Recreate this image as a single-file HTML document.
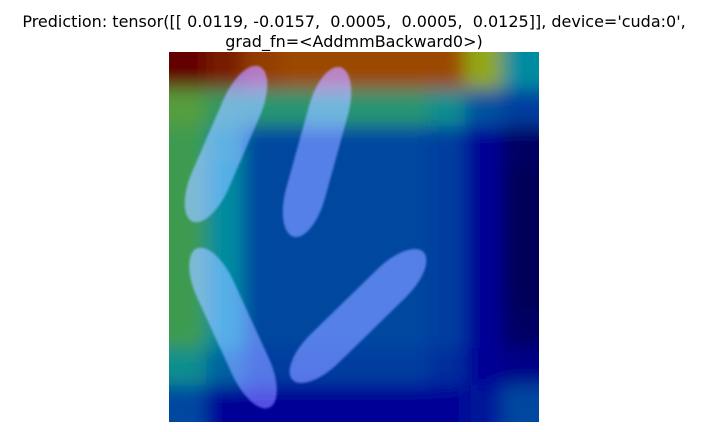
<!DOCTYPE html>
<html><head><meta charset="utf-8"><style>
html,body{margin:0;padding:0;background:#fff;width:707px;height:432px;overflow:hidden;position:relative}
svg{display:block;position:absolute;left:0;top:0;overflow:hidden}
text{font-family:"DejaVu Sans","Liberation Sans",sans-serif;font-size:16px;fill:#000}
</style></head><body>
<svg id="s" width="707" height="432" viewBox="0 0 707 432">
<text x="354" y="27" text-anchor="middle" xml:space="preserve">Prediction: tensor([[ 0.0119, -0.0157,  0.0005,  0.0005,  0.0125]], device='cuda:0',</text>
<text x="354" y="47" text-anchor="middle">grad_fn=&lt;AddmmBackward0&gt;)</text>
<defs>
<clipPath id="clip"><rect x="169" y="52" width="370" height="370"/></clipPath>
<filter id="blur" x="-20%" y="-20%" width="140%" height="140%"><feGaussianBlur stdDeviation="9"/></filter>
<filter id="soft"><feGaussianBlur stdDeviation="1"/></filter>
</defs>
<g clip-path="url(#clip)">
<g id="heat" filter="url(#blur)"></g>
<g id="grains" filter="url(#soft)" style="mix-blend-mode:screen"></g>
</g>
</svg>
<script>
const heatRows = [
 [1.0, 0.95,0.88,0.86,0.86,0.86,0.86,0.86,0.65,0.42],
 [0.58,0.52,0.5, 0.5, 0.5, 0.5, 0.5, 0.45,0.32,0.28],
 [0.55,0.45,0.3, 0.3, 0.3, 0.3, 0.3, 0.28,0.15,0.04],
 [0.55,0.42,0.3, 0.3, 0.3, 0.3, 0.3, 0.28,0.15,0.02],
 [0.55,0.42,0.3, 0.3, 0.3, 0.3, 0.3, 0.28,0.15,0.02],
 [0.55,0.42,0.3, 0.3, 0.3, 0.3, 0.3, 0.28,0.15,0.02],
 [0.55,0.42,0.3, 0.3, 0.3, 0.3, 0.3, 0.28,0.15,0.02],
 [0.55,0.42,0.3, 0.3, 0.3, 0.3, 0.3, 0.28,0.15,0.04],
 [0.45,0.35,0.28,0.28,0.28,0.28,0.28,0.25,0.15,0.12],
 [0.3, 0.15,0.15,0.15,0.15,0.15,0.15,0.15,0.2, 0.3]
];
const grainCenterX = [226, 317, 233, 358];
const grainCenterY = [144, 152, 328, 316];
const grainLength = [169, 176, 175, 183];
const grainAngle = [-66.6, -74.5, 65.4, -44.3];

const stops=[[0,[0,0,80]],[0.15,[0,0,150]],[0.3,[5,70,160]],[0.42,[0,140,160]],[0.55,[60,155,80]],[0.68,[170,170,0]],[0.86,[155,72,0]],[1,[100,0,0]]];
function cmap(v){for(let i=1;i<stops.length;i++){if(v<=stops[i][0]){const a=stops[i-1],b=stops[i],t=(v-a[0])/(b[0]-a[0]);const c=a[1].map((x,k)=>Math.round(x+(b[1][k]-x)*t));return `rgb(${c})`;}}return 'rgb(100,0,0)';}
const NS='http://www.w3.org/2000/svg';
const X0=169,Y0=52,W=370;
const n=heatRows.length,cw=W/heatRows[0].length,ch=W/n;
const heat=document.getElementById('heat');
heatRows.forEach((row,r)=>row.forEach((v,c)=>{
 const el=document.createElementNS(NS,'rect');
 let x=X0+c*cw,y=Y0+r*ch,w=cw+0.5,h=ch+0.5;
 if(c===0){x-=30;w+=30;} if(c===row.length-1){w+=30;}
 if(r===0){y-=30;h+=30;} if(r===n-1){h+=30;}
 el.setAttribute('x',x);el.setAttribute('y',y);el.setAttribute('width',w);el.setAttribute('height',h);
 el.setAttribute('fill',cmap(v));
 
 
 heat.appendChild(el);
}));
const g=document.getElementById('grains');
const gw=40;
grainCenterX.forEach((cx,i)=>{
 const el=document.createElementNS(NS,'rect');
 const L=grainLength[i],cy=grainCenterY[i];
 el.setAttribute('x',cx-L/2);el.setAttribute('y',cy-gw/2);
 el.setAttribute('width',L);el.setAttribute('height',gw);
 el.setAttribute('rx',45);el.setAttribute('ry',gw/2);
 el.setAttribute('transform',`rotate(${grainAngle[i]} ${cx} ${cy})`);
 el.setAttribute('fill','rgb(85,80,190)');
 
 
 g.appendChild(el);
});
</script>
</body></html>
